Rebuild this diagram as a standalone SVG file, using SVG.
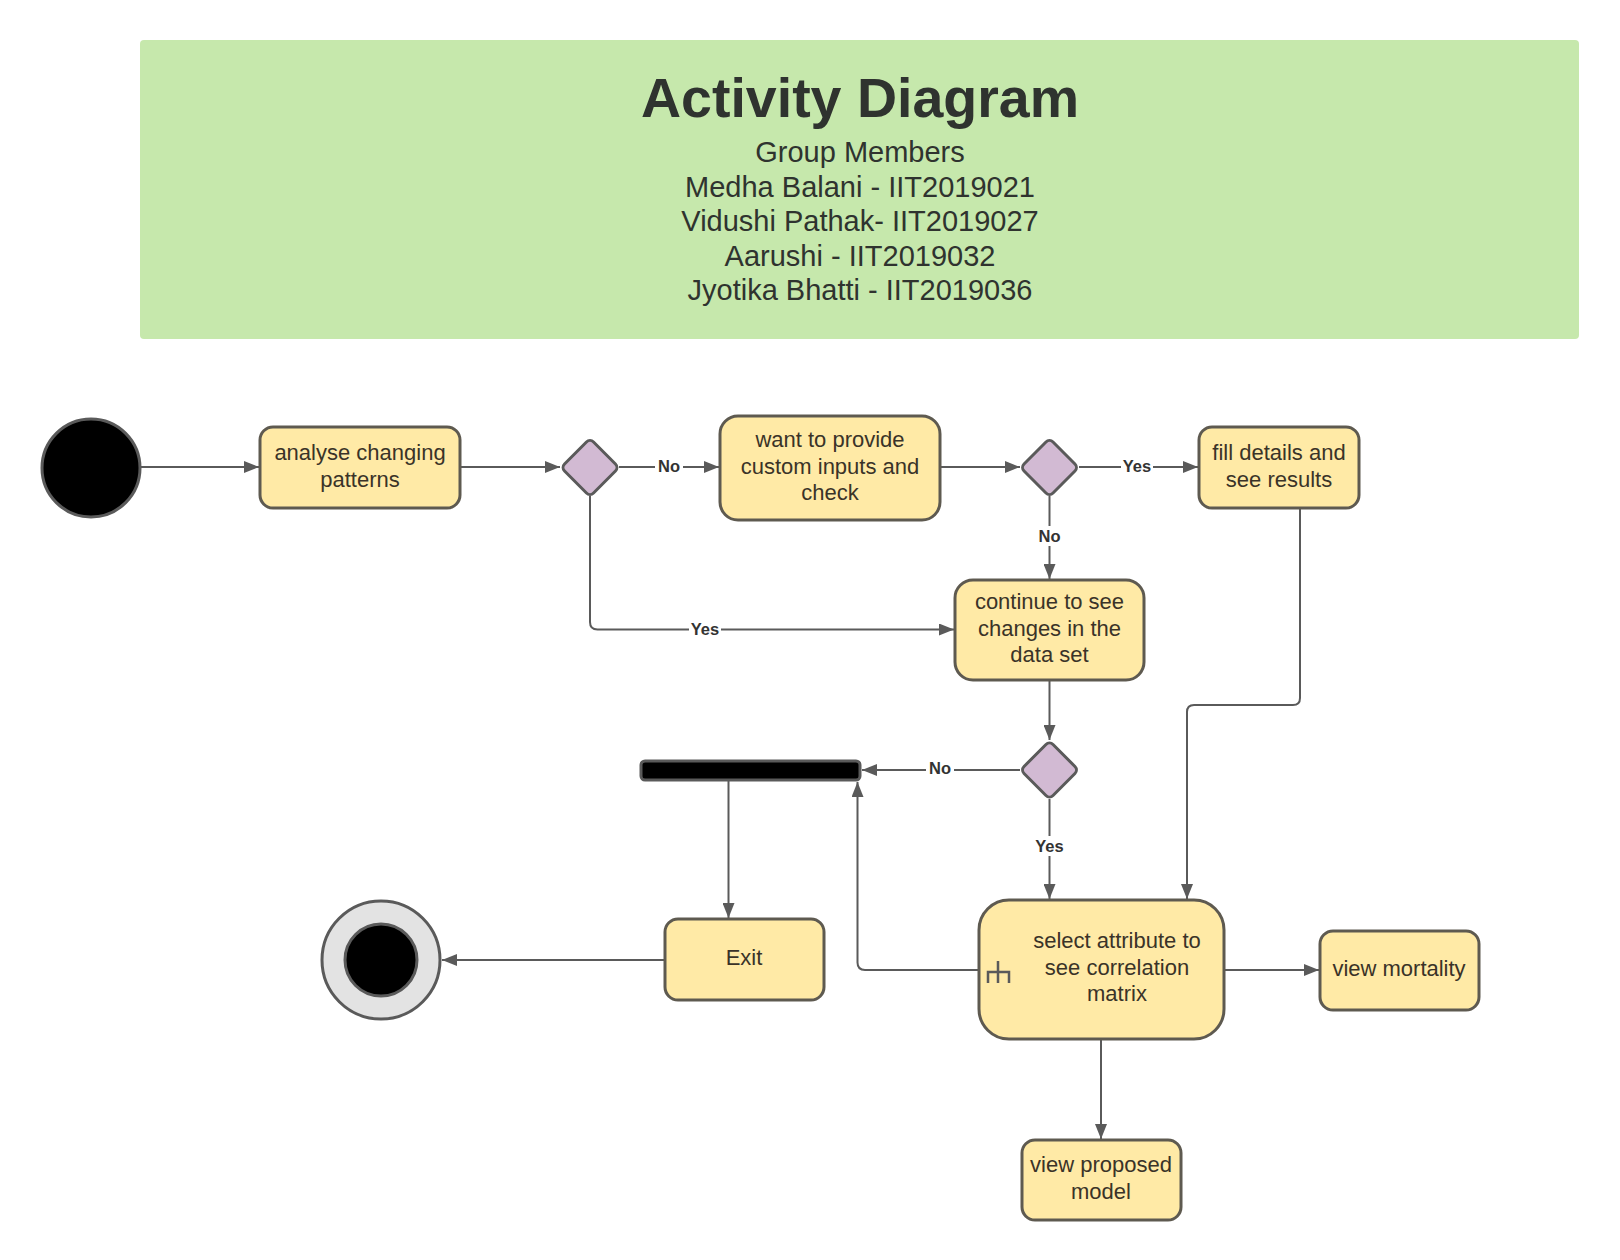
<svg xmlns="http://www.w3.org/2000/svg" width="1620" height="1260" viewBox="0 0 1620 1260">
<defs>
<marker id="arr" markerUnits="userSpaceOnUse" markerWidth="16" markerHeight="12" refX="15" refY="6" orient="auto">
<path d="M0,0 L15,6 L0,12 z" fill="#5a5a5a"/>
</marker>
<style>
.node{fill:#ffeaa6;stroke:#5e5a50;stroke-width:3}
.dia{fill:#d2bad3;stroke:#5a5a5a;stroke-width:3}
.nt{font-family:"Liberation Sans",Arial,sans-serif;font-size:22px;fill:#3a3328;text-anchor:middle}
.con{fill:none;stroke:#5a5a5a;stroke-width:2}
.lbl{font-family:"Liberation Sans",Arial,sans-serif;font-size:16.5px;font-weight:bold;fill:#333;text-anchor:middle}
.lb{fill:#fff}
.hd{font-family:"Liberation Sans",Arial,sans-serif;fill:#2f332f;text-anchor:middle}
</style>
</defs>
<rect width="1620" height="1260" fill="#fff"/>
<g id="header">
<rect x="140" y="40" width="1439" height="299" rx="4" fill="#c6e8ac"/>
<text class="hd" x="860" y="117" font-size="55.5" font-weight="bold">Activity Diagram</text>
<text class="hd" x="860" y="162" font-size="29">Group Members</text>
<text class="hd" x="860" y="196.5" font-size="29">Medha Balani - IIT2019021</text>
<text class="hd" x="860" y="231" font-size="29">Vidushi Pathak- IIT2019027</text>
<text class="hd" x="860" y="265.5" font-size="29">Aarushi - IIT2019032</text>
<text class="hd" x="860" y="300" font-size="29">Jyotika Bhatti - IIT2019036</text>
</g>
<g id="connectors">
<path class="con" d="M141 467 H259" marker-end="url(#arr)"/>
<path class="con" d="M460 467 H560" marker-end="url(#arr)"/>
<path class="con" d="M619 467 H719" marker-end="url(#arr)"/>
<path class="con" d="M940 467 H1020" marker-end="url(#arr)"/>
<path class="con" d="M1079 467 H1198" marker-end="url(#arr)"/>
<path class="con" d="M1049.5 496 V579" marker-end="url(#arr)"/>
<path class="con" d="M590 496 V622 Q590 629.5 597.5 629.5 H954" marker-end="url(#arr)"/>
<path class="con" d="M1049.5 680 V740" marker-end="url(#arr)"/>
<path class="con" d="M1020 770 H862" marker-end="url(#arr)"/>
<path class="con" d="M728.5 781 V918" marker-end="url(#arr)"/>
<path class="con" d="M665 960 H442" marker-end="url(#arr)"/>
<path class="con" d="M1049.5 799 V899" marker-end="url(#arr)"/>
<path class="con" d="M1300 508 V698 Q1300 705 1293 705 H1194 Q1187 705 1187 712 V899" marker-end="url(#arr)"/>
<path class="con" d="M979 970 H865 Q857.5 970 857.5 962.5 V782" marker-end="url(#arr)"/>
<path class="con" d="M1224 970 H1319" marker-end="url(#arr)"/>
<path class="con" d="M1101 1039 V1139" marker-end="url(#arr)"/>
<rect class="lb" x="655" y="456" width="28" height="20"/>
<text class="lbl" x="669" y="472">No</text>
<rect class="lb" x="1121" y="456" width="32" height="20"/>
<text class="lbl" x="1137" y="472">Yes</text>
<rect class="lb" x="1035" y="526" width="29" height="20"/>
<text class="lbl" x="1049.5" y="542">No</text>
<rect class="lb" x="689" y="619" width="32" height="20"/>
<text class="lbl" x="705" y="635">Yes</text>
<rect class="lb" x="926" y="758" width="28" height="20"/>
<text class="lbl" x="940" y="774">No</text>
<rect class="lb" x="1033" y="836" width="33" height="20"/>
<text class="lbl" x="1049.5" y="852">Yes</text>
</g>
<g id="start">
<circle cx="91" cy="468" r="49" fill="#000" stroke="#5a5a5a" stroke-width="3"/>
</g>
<g id="analyse">
<rect class="node" x="260" y="427" width="200" height="81" rx="13"/>
<text class="nt" x="360" y="460">analyse changing</text>
<text class="nt" x="360" y="486.5">patterns</text>
</g>
<g id="decision1">
<rect class="dia" x="-20.5" y="-20.5" width="41" height="41" rx="5" transform="translate(590 467.5) rotate(45)"/>
</g>
<g id="want">
<rect class="node" x="720" y="416" width="220" height="104" rx="18"/>
<text class="nt" x="830" y="447">want to provide</text>
<text class="nt" x="830" y="473.5">custom inputs and</text>
<text class="nt" x="830" y="500">check</text>
</g>
<g id="decision2">
<rect class="dia" x="-20.5" y="-20.5" width="41" height="41" rx="5" transform="translate(1049.5 467.5) rotate(45)"/>
</g>
<g id="fill">
<rect class="node" x="1199" y="427" width="160" height="81" rx="13"/>
<text class="nt" x="1279" y="460">fill details and</text>
<text class="nt" x="1279" y="486.5">see results</text>
</g>
<g id="continue">
<rect class="node" x="955" y="580" width="189" height="100" rx="18"/>
<text class="nt" x="1049.5" y="609">continue to see</text>
<text class="nt" x="1049.5" y="635.5">changes in the</text>
<text class="nt" x="1049.5" y="662">data set</text>
</g>
<g id="decision3">
<rect class="dia" x="-20.5" y="-20.5" width="41" height="41" rx="5" transform="translate(1049.5 770) rotate(45)"/>
</g>
<g id="bar">
<rect x="641" y="761" width="219" height="19" rx="4" fill="#000" stroke="#5a5a5a" stroke-width="3"/>
</g>
<g id="exit">
<rect class="node" x="665" y="919" width="159" height="81" rx="13"/>
<text class="nt" x="744" y="965">Exit</text>
</g>
<g id="final">
<circle cx="381" cy="960" r="59" fill="#e3e3e3" stroke="#5a5a5a" stroke-width="3"/>
<circle cx="381" cy="960" r="36" fill="#000" stroke="#5a5a5a" stroke-width="3"/>
</g>
<g id="select">
<rect class="node" x="979" y="900" width="245" height="139" rx="30"/>
<text class="nt" x="1117" y="948">select attribute to</text>
<text class="nt" x="1117" y="974.5">see correlation</text>
<text class="nt" x="1117" y="1001">matrix</text>
<path d="M998 961 V983 M988 983 V972 H1009 V983" fill="none" stroke="#5a5a5a" stroke-width="2.5"/>
</g>
<g id="mortality">
<rect class="node" x="1320" y="931" width="159" height="79" rx="13"/>
<text class="nt" x="1399" y="976">view mortality</text>
</g>
<g id="proposed">
<rect class="node" x="1022" y="1140" width="159" height="80" rx="13"/>
<text class="nt" x="1101" y="1172">view proposed</text>
<text class="nt" x="1101" y="1198.5">model</text>
</g>
</svg>
